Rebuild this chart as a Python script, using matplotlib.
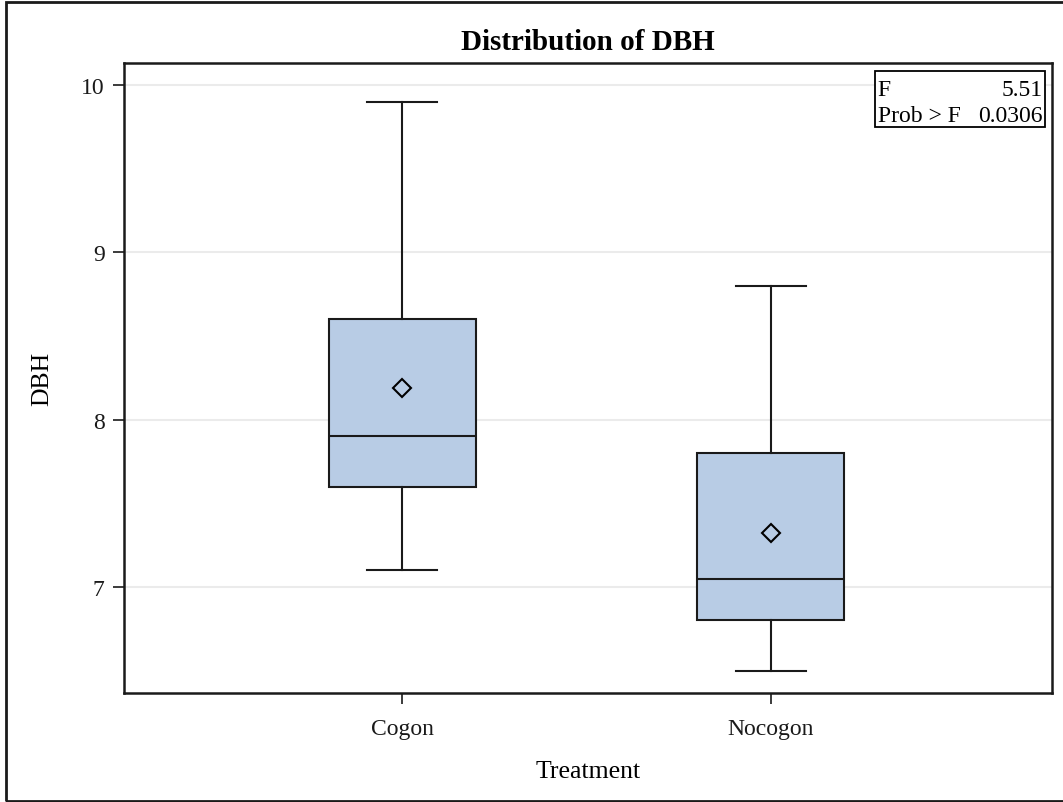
import matplotlib.pyplot as plt
from matplotlib.patches import Rectangle

# DBH summary per treatment
treatments = ["Cogon", "Nocogon"]
whisker_low = [7.1, 6.5]
q1 = [7.6, 6.8]
median = [7.9, 7.05]
q3 = [8.6, 7.8]
whisker_high = [9.9, 8.8]
means = [8.19, 7.32]

f_value = "5.51"
prob_f = "0.0306"

box_color = "#B8CCE5"

plt.rcParams["font.family"] = ["Liberation Serif", "DejaVu Serif"]

fig = plt.figure(figsize=(10.63, 8.03), dpi=100)
ax = fig.add_axes([0.1167, 0.1357, 0.8730, 0.7846])

stats = []
for i, name in enumerate(treatments):
    stats.append({
        "label": name,
        "whislo": whisker_low[i],
        "q1": q1[i],
        "med": median[i],
        "q3": q3[i],
        "whishi": whisker_high[i],
        "mean": means[i],
        "fliers": [],
    })

ax.bxp(
    stats,
    positions=[0, 1],
    widths=0.40,
    patch_artist=True,
    showmeans=True,
    boxprops=dict(facecolor=box_color, edgecolor="#1a1a1a", linewidth=1.5),
    medianprops=dict(color="#1a1a1a", linewidth=1.5),
    whiskerprops=dict(color="#1a1a1a", linewidth=1.5),
    capprops=dict(color="#1a1a1a", linewidth=1.5),
    capwidths=0.19,
    meanprops=dict(marker="D", markersize=9, markerfacecolor="none",
                   markeredgecolor="black", markeredgewidth=1.5),
    zorder=3,
)

ax.set_xlim(-0.756, 1.764)
ax.set_ylim(6.3665, 10.131)
ax.set_yticks([7, 8, 9, 10])
ax.set_xticks([0, 1])
ax.set_xticklabels(treatments)
ax.yaxis.grid(True, color="#ebebeb", linewidth=1.5, zorder=0)
ax.set_axisbelow(True)
ax.tick_params(axis="both", direction="out", length=8, width=1.2,
               labelsize=17, colors="#1a1a1a")
ax.tick_params(axis="y", pad=6)
ax.tick_params(axis="x", pad=10)
for sp in ax.spines.values():
    sp.set_linewidth(1.8)
    sp.set_color("#1a1a1a")

ax.set_xlabel("Treatment", fontsize=18.5, labelpad=15)
ax.set_ylabel("DBH", fontsize=18.5, labelpad=20)
ax.set_title("Distribution of DBH", fontsize=21, fontweight="bold", pad=10)

# F-test inset
ax.add_patch(Rectangle((0.809, 0.899), 0.183, 0.088, transform=ax.transAxes,
                       facecolor="white", edgecolor="black", linewidth=1.3, zorder=5))
ax.text(0.812, 0.958, "F", transform=ax.transAxes, fontsize=17,
        ha="left", va="center", zorder=6)
ax.text(0.9895, 0.958, f_value, transform=ax.transAxes, fontsize=17,
        ha="right", va="center", zorder=6)
ax.text(0.812, 0.916, "Prob > F", transform=ax.transAxes, fontsize=17,
        ha="left", va="center", zorder=6)
ax.text(0.9895, 0.916, prob_f, transform=ax.transAxes, fontsize=17,
        ha="right", va="center", zorder=6)

# outer frame
fig.patches.append(Rectangle((6 / 1063, 1 / 803), 1.2, 799 / 803,
                             transform=fig.transFigure, fill=False,
                             edgecolor="#1a1a1a", linewidth=2))

fig.savefig("out.png", dpi=100)
